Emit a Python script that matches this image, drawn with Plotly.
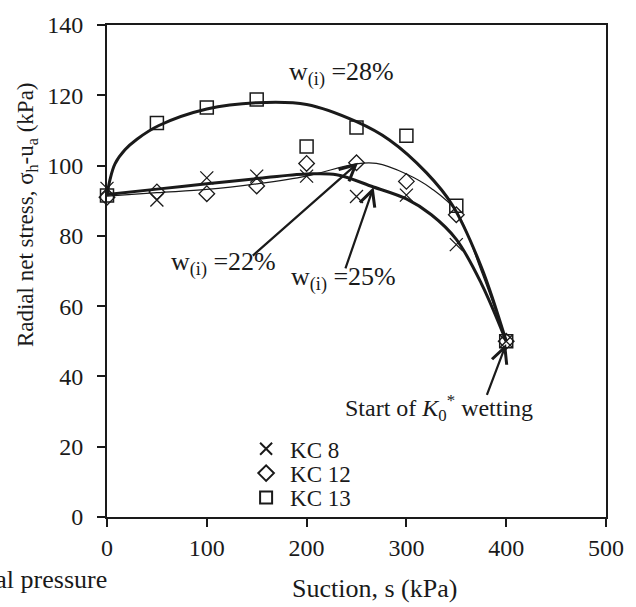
import plotly.graph_objects as go

# ---- data ----
suction = [0, 50, 100, 150, 200, 250, 300, 350, 400]
kc8 = [93.5, 90.2, 96.5, 97.0, 97.0, 91.2, 91.6, 77.5, 50.0]
kc12 = [91.0, 92.5, 92.0, 94.2, 100.6, 100.8, 95.5, 86.0, 50.0]
kc13 = [91.5, 112.1, 116.5, 118.8, 105.4, 110.8, 108.5, 88.6, 50.0]

# fitted trend curves
fit28_s = [0, 3, 8, 18, 30, 52, 100, 150, 200, 250, 283, 320, 346, 375, 400]
fit28_v = [91.5, 96, 100.5, 104.5, 107.5, 111.4, 116.1, 117.9, 117.4, 112.5, 107.3, 98, 88.8, 71.2, 50]
fit25_s = [0, 50, 100, 150, 200, 230, 267, 300, 325, 350, 375, 400]
fit25_v = [91.8, 93.3, 94.8, 96.3, 97.6, 97.4, 93.9, 90.5, 86, 79, 66.5, 50]
fit22_s = [0, 50, 100, 150, 200, 250, 270, 300, 325, 350, 375, 400]
fit22_v = [91.3, 92.3, 93.2, 94.8, 97.0, 100.5, 100.6, 97.6, 93.5, 87, 70, 50]

series_names = ["KC 8", "KC 12", "KC 13"]

FONT = "Liberation Serif, Times New Roman, serif"
INK = "#1a1a1a"

# layout geometry (pixels)
W, H = 636, 607
L, R, T, B = 107, 23, 12, 90
PW, PH = W - L - R, H - T - B


def px(xp):
    return (xp - L) / PW


def py(yp):
    return (H - B - yp) / PH


fig = go.Figure()

fig.add_trace(go.Scatter(x=fit28_s, y=fit28_v, mode="lines", line=dict(color=INK, width=3, shape="spline"),
                         showlegend=False, hoverinfo="skip"))
fig.add_trace(go.Scatter(x=fit25_s, y=fit25_v, mode="lines", line=dict(color=INK, width=3, shape="spline"),
                         showlegend=False, hoverinfo="skip"))
fig.add_trace(go.Scatter(x=fit22_s, y=fit22_v, mode="lines", line=dict(color=INK, width=1.2, shape="spline"),
                         showlegend=False, hoverinfo="skip"))

fig.add_trace(go.Scatter(x=suction, y=kc8, mode="markers", name=series_names[0], cliponaxis=False,
                         legend="legend",
                         marker=dict(symbol="x-thin-open", size=13, color=INK, line=dict(color=INK, width=1.3))))
fig.add_trace(go.Scatter(x=suction, y=kc12, mode="markers", name=series_names[1], cliponaxis=False,
                         legend="legend2",
                         marker=dict(symbol="diamond-open", size=12, color=INK, line=dict(color=INK, width=1.3))))
fig.add_trace(go.Scatter(x=suction, y=kc13, mode="markers", name=series_names[2], cliponaxis=False,
                         legend="legend3",
                         marker=dict(symbol="square-open", size=13, color=INK, line=dict(color=INK, width=1.5))))

ann = []
tf = dict(family=FONT, size=26, color=INK)
ann.append(dict(xref="paper", yref="paper", x=px(290), y=py(62), xanchor="left", yanchor="middle",
                text="w<sub>(i)</sub> =28%", showarrow=False, font=tf))
ann.append(dict(xref="paper", yref="paper", x=px(170), y=py(257), xanchor="left", yanchor="middle",
                text="w<sub>(i)</sub> =22%", showarrow=False, font=tf))
ann.append(dict(xref="paper", yref="paper", x=px(292), y=py(272), xanchor="left", yanchor="middle",
                text="w<sub>(i)</sub> =25%", showarrow=False, font=tf))
ann.append(dict(xref="paper", yref="paper", x=px(346), y=py(405), xanchor="left", yanchor="middle",
                text="Start of <i>K</i><sub>0</sub><sup>*</sup> wetting", showarrow=False,
                font=dict(family=FONT, size=24, color=INK)))

# arrows (head, tail in data units)
arrows = [((251.6, 100.8), (144.6, 74.0)), ((267.1, 93.9), (238.4, 70.3)), ((399.9, 49.2), (380.1, 34.3))]
for (hx, hy), (tx, ty) in arrows:
    ann.append(dict(x=hx, y=hy, ax=tx, ay=ty, xref="x", yref="y", axref="x", ayref="y", text="",
                    showarrow=True, arrowhead=5, arrowsize=1.4, arrowwidth=2.2, arrowcolor=INK))

# axis titles
ann.append(dict(xref="paper", yref="paper", x=px(26), y=py(207), xanchor="center", yanchor="middle",
                textangle=-90, text="Radial net stress, σ<sub>h</sub>-u<sub>a</sub> (kPa)", showarrow=False,
                font=dict(family=FONT, size=23, color=INK)))
ann.append(dict(xref="paper", yref="paper", x=px(378), y=py(590), xanchor="center", yanchor="middle",
                text="Suction, s (kPa)", showarrow=False, font=dict(family=FONT, size=26, color=INK)))
ann.append(dict(xref="paper", yref="paper", x=px(109), y=py(581), xanchor="right", yanchor="middle",
                text="Initial pressure", showarrow=False, font=dict(family=FONT, size=26, color=INK)))

leg_common = dict(xanchor="left", yanchor="middle", bgcolor="rgba(0,0,0,0)",
                  font=dict(family=FONT, size=23, color=INK), itemwidth=38, itemsizing="constant")
fig.update_layout(
    width=W, height=H, margin=dict(l=L, r=R, t=T, b=B),
    paper_bgcolor="white", plot_bgcolor="white",
    font=dict(family=FONT, size=24, color=INK),
    annotations=ann,
    legend=dict(x=px(244), y=py(447), **leg_common),
    legend2=dict(x=px(244), y=py(472), **leg_common),
    legend3=dict(x=px(244), y=py(497), **leg_common),
)
fig.update_xaxes(range=[0, 500], dtick=100, tick0=0, showgrid=False, zeroline=False, showline=True,
                 linecolor=INK, linewidth=2, mirror=True, ticks="outside", ticklen=8, tickwidth=1.5,
                 tickcolor=INK, ticklabelstandoff=0, tickfont=dict(family=FONT, size=24, color=INK))
fig.update_yaxes(range=[0, 140], dtick=20, tick0=0, showgrid=False, zeroline=False, showline=True,
                 linecolor=INK, linewidth=2, mirror=True, ticks="outside", ticklen=8, tickwidth=1.5,
                 tickcolor=INK, ticklabelstandoff=9, tickfont=dict(family=FONT, size=24, color=INK))

fig.write_html("out.html")
